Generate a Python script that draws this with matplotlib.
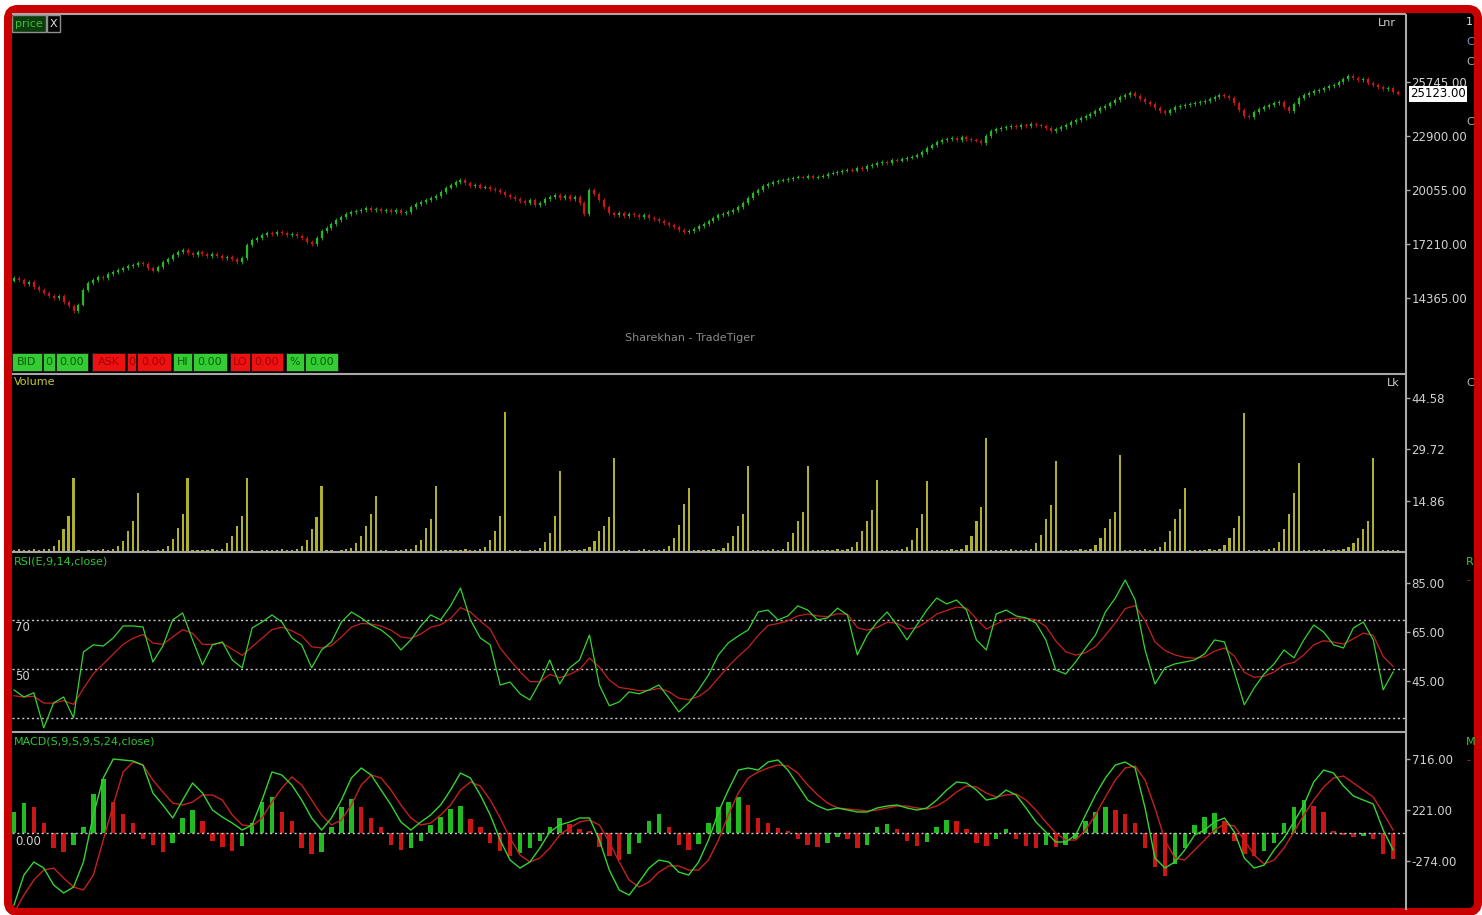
import matplotlib
matplotlib.use("Agg")
import matplotlib.pyplot as plt
import matplotlib.transforms as mtransforms
from matplotlib.patches import Rectangle, FancyBboxPatch
import numpy as np

plt.rcParams['font.family'] = ['DejaVu Sans']

# ---------------- data ----------------
first_open = 15300
closes = [
    15416, 15311, 15100, 15206, 14942, 14783, 14626, 14468, 14362, 14468,
    14151, 13940, 13676, 13995, 14783, 15153, 15311, 15469, 15416, 15627,
    15732, 15838, 15943, 16048, 16101, 16206, 16154, 15943, 15786, 15996,
    16259, 16417, 16628, 16786, 16892, 16733, 16628, 16786, 16681, 16575,
    16681, 16575, 16470, 16523, 16417, 16259, 16470, 17155, 17418, 17524,
    17682, 17787, 17735, 17840, 17787, 17682, 17735, 17629, 17524, 17313,
    17208, 17524, 17893, 18051, 18262, 18472, 18631, 18789, 18894, 18947,
    19000, 19105, 19000, 19052, 18947, 19000, 18894, 19000, 18842, 18894,
    19158, 19316, 19421, 19526, 19632, 19737, 19949, 20160, 20318, 20476,
    20581, 20423, 20265, 20318, 20160, 20213, 20107, 20054, 19949, 19790,
    19685, 19579, 19474, 19368, 19526, 19263, 19368, 19579, 19685, 19790,
    19632, 19737, 19579, 19685, 19368, 18789, 20054, 19842, 19526, 19158,
    18842, 18736, 18842, 18684, 18789, 18736, 18631, 18736, 18578, 18525,
    18420, 18314, 18209, 18104, 17946, 17840, 17893, 17998, 18156, 18262,
    18420, 18578, 18736, 18789, 18894, 19000, 19158, 19368, 19632, 19896,
    20054, 20265, 20370, 20476, 20529, 20581, 20634, 20687, 20740, 20687,
    20792, 20687, 20740, 20792, 20898, 20950, 21003, 21056, 21108, 21056,
    21214, 21161, 21319, 21372, 21477, 21530, 21477, 21635, 21583, 21688,
    21741, 21794, 21899, 22057, 22268, 22426, 22584, 22689, 22742, 22795,
    22689, 22847, 22742, 22689, 22637, 22531, 22900, 23163, 23268, 23321,
    23374, 23426, 23374, 23479, 23426, 23532, 23479, 23426, 23321, 23163,
    23268, 23374, 23479, 23637, 23742, 23848, 23953, 24058, 24216, 24375,
    24480, 24638, 24796, 24954, 25060, 25165, 25007, 24849, 24691, 24585,
    24375, 24216, 24111, 24269, 24427, 24480, 24533, 24585, 24638, 24691,
    24743, 24849, 24954, 25060, 25007, 24902, 24638, 24269, 23953, 23900,
    24164, 24322, 24427, 24533, 24638, 24691, 24427, 24216, 24585, 24902,
    25060, 25165, 25270, 25323, 25429, 25534, 25587, 25745, 25903, 26061,
    25956, 25850, 25903, 25692, 25587, 25481, 25376, 25429, 25218, 25123,
]
volume = [
    0.6, 0.8, 0.5, 0.7, 0.9, 0.6, 0.8, 1.0, 1.8, 3.5, 6.5, 10.5, 21.4, 0.5, 0.4, 0.6, 0.7, 0.5, 0.8, 0.6,
    0.9, 1.6, 3.2, 6.0, 9.0, 17.0, 0.5, 0.6, 0.4, 0.7, 0.9, 1.8, 3.8, 7.0, 11.0, 21.4, 0.6, 0.5, 0.7, 0.6,
    0.8, 0.5, 0.9, 2.5, 4.5, 7.5, 10.5, 21.4, 0.5, 0.4, 0.6, 0.5, 0.7, 0.6, 0.8, 0.5, 0.7, 1.0, 1.8, 3.5,
    6.5, 10.0, 19.0, 0.6, 0.5, 0.4, 0.6, 0.8, 1.2, 2.5, 4.5, 7.5, 11.0, 16.2, 0.5, 0.6, 0.4, 0.7, 0.6, 0.8,
    0.9, 2.0, 3.5, 7.0, 9.5, 19.0, 0.6, 0.5, 0.7, 0.6, 0.5, 0.8, 0.6, 0.7, 0.9, 1.5, 3.5, 6.0, 10.5, 40.4,
    0.7, 0.5, 0.6, 0.4, 0.7, 0.6, 1.2, 3.0, 5.5, 10.5, 23.4, 0.6, 0.5, 0.7, 0.6, 0.8, 1.5, 3.2, 6.0, 7.5,
    10.0, 27.1, 0.6, 0.5, 0.7, 0.4, 0.6, 0.8, 0.5, 0.7, 0.6, 0.9, 1.6, 4.0, 7.8, 14.0, 18.5, 0.5, 0.6, 0.7,
    0.5, 0.8, 0.6, 1.2, 2.5, 4.5, 7.5, 11.0, 24.8, 0.6, 0.5, 0.7, 0.6, 0.8, 0.5, 1.0, 2.8, 5.5, 9.0, 11.5,
    24.8, 0.6, 0.5, 0.7, 0.6, 0.5, 0.8, 0.6, 0.9, 1.5, 3.0, 6.0, 9.0, 12.0, 20.8, 0.5, 0.7, 0.6, 0.5, 0.8,
    1.4, 3.5, 7.0, 11.0, 20.5, 0.6, 0.5, 0.7, 0.6, 0.8, 0.5, 0.9, 2.0, 4.5, 9.0, 13.0, 32.9, 0.6, 0.5, 0.7,
    0.6, 0.8, 0.5, 0.7, 0.6, 0.9, 2.5, 5.0, 9.5, 13.5, 26.3, 0.6, 0.5, 0.7, 0.6, 0.8, 0.5, 1.0, 2.0, 4.0,
    7.0, 9.5, 11.5, 28.0, 0.6, 0.5, 0.7, 0.6, 0.8, 0.6, 0.9, 1.5, 3.0, 6.0, 9.5, 12.5, 18.5, 0.6, 0.5, 0.7,
    0.6, 0.8, 0.5, 0.9, 2.0, 4.0, 7.0, 10.5, 40.1, 0.6, 0.5, 0.7, 0.6, 0.8, 1.2, 3.0, 6.5, 11.0, 17.0, 25.7,
    0.6, 0.5, 0.7, 0.6, 0.8, 0.5, 0.7, 0.6, 0.9, 1.5, 2.5, 4.0, 6.5, 9.0, 27.1, 0.6, 0.5, 0.7, 0.6, 0.5,
]
rsi = [
    41.4, 38.5, 40.2, 25.9, 36.1, 38.5, 30.0, 56.9, 59.8, 59.3,
    62.6, 67.5, 67.5, 67.1, 52.8, 59.3, 70.0, 72.8, 61.8, 51.6,
    59.8, 61.0, 53.6, 50.4, 66.7, 69.1, 72.0, 69.1, 62.6, 59.8,
    50.4, 57.7, 61.0, 69.1, 73.2, 70.8, 67.9, 65.9, 62.6, 57.7,
    61.8, 67.5, 72.0, 70.0, 75.7, 83.0, 70.0, 62.6, 59.8, 43.4,
    44.6, 39.8, 37.3, 44.6, 53.6, 43.8, 50.4, 53.6, 63.8, 43.4,
    34.9, 36.5, 40.6, 39.8, 41.4, 43.4, 38.1, 32.4, 36.1, 41.4,
    47.5, 55.7, 60.6, 63.4, 65.9, 73.2, 74.0, 70.0, 71.6, 75.7,
    74.0, 70.0, 70.8, 74.8, 72.0, 55.7, 63.8, 69.1, 73.2, 67.9,
    61.8, 67.9, 74.0, 78.9, 76.5, 78.1, 74.0, 61.8, 57.7, 72.4,
    74.0, 71.6, 70.8, 68.7, 61.8, 49.5, 47.9, 52.8, 58.5, 63.8,
    73.2, 78.9, 86.3, 78.1, 57.7, 43.8, 50.4, 52.0, 52.8, 53.6,
    56.1, 61.8, 61.0, 48.7, 35.3, 42.2, 47.9, 52.0, 57.7, 54.5,
    61.8, 67.9, 65.0, 59.8, 58.5, 66.7, 69.1, 61.8, 41.4, 48.7,
]
rsi_signal = [
    39, 38.5, 38.8, 36, 36, 37, 35.5, 42, 48, 52,
    56, 60, 62.5, 64, 60.5, 60, 63, 66, 64.5, 60,
    60, 60.5, 58, 55.5, 59, 62.5, 66, 67, 65.5, 63.5,
    59, 58.5, 59.5, 63, 67, 68.5, 68.3, 67.5, 65.8, 63,
    62.5, 64.2, 67, 68, 70.5, 75, 73.2, 69.5, 66.2, 58.5,
    53.5, 48.8, 44.8, 44.7, 47.7, 46.4, 47.7, 49.7, 54.4, 50.7,
    45.4, 42.4, 41.8, 41.1, 41.2, 42, 40.7, 38, 37.4, 38.7,
    41.6, 46.3, 51, 55.1, 58.7, 63.6, 67.7, 68.5, 69.6, 71.6,
    72.4, 71.6, 71.3, 72.5, 72.3, 66.8, 65.8, 66.9, 69, 68.6,
    66.3, 66.8, 69.2, 72.4, 73.8, 75.2, 74.8, 70.4, 66.2, 68.3,
    70.2, 70.7, 70.7, 70, 67.3, 61.4, 57, 55.6, 56.6, 59,
    63.7, 68.8, 74.6, 75.8, 69.7, 61, 57.5, 55.7, 54.7, 54.3,
    54.9, 57.2, 58.5, 55.2, 48.6, 46.5, 47, 48.7, 51.7, 52.6,
    55.7, 59.8, 61.5, 60.9, 60.1, 62.3, 64.6, 63.7, 55, 51,
]
macd = [
    -699, -408, -281, -340, -505, -582, -524, -281, 175, 534,
    718, 709, 699, 660, 388, 272, 146, 320, 485, 388,
    223, 155, 97, 29, 78, 320, 592, 563, 466, 320,
    146, 29, 146, 320, 534, 631, 563, 417, 272, 107,
    29, 107, 175, 272, 417, 582, 534, 369, 175, -68,
    -262, -340, -281, -146, 10, 78, 107, 146, 146, -68,
    -359, -553, -602, -476, -340, -262, -281, -379, -408, -281,
    -68, 204, 417, 611, 631, 611, 689, 709, 611, 466,
    320, 262, 223, 243, 223, 204, 204, 243, 262, 272,
    243, 223, 243, 320, 417, 495, 485, 417, 320, 340,
    417, 369, 243, 107, 10, -87, -87, -19, 175, 369,
    534, 660, 689, 631, 243, -243, -340, -281, -165, -19,
    29, 107, 146, 10, -243, -340, -311, -165, -49, 107,
    272, 495, 611, 582, 456, 359, 320, 281, 29, -165,
]
macd_signal = [
    -776, -602, -456, -359, -340, -437, -524, -553, -408, -68,
    272, 592, 689, 660, 514, 398, 291, 272, 301, 369,
    369, 320, 175, 78, 68, 146, 301, 437, 544, 466,
    320, 175, 78, 126, 272, 466, 563, 534, 417, 272,
    146, 78, 97, 175, 272, 417, 495, 456, 320, 146,
    -49, -214, -281, -243, -146, -19, 49, 107, 126, 78,
    -87, -281, -456, -524, -476, -379, -320, -320, -359, -359,
    -262, -68, 175, 388, 534, 592, 631, 660, 650, 582,
    466, 369, 291, 243, 233, 223, 214, 223, 243, 262,
    262, 243, 233, 262, 320, 398, 456, 446, 388, 349,
    369, 379, 320, 223, 107, 0, -68, -68, 29, 175,
    349, 514, 631, 650, 514, 243, -68, -243, -262, -165,
    -68, 29, 87, 68, -68, -214, -301, -262, -146, 10,
    175, 320, 446, 534, 553, 485, 417, 349, 194, 29,
]
macd_hist = [
    200, 290, 250, 100, -150, -180, -120, 60, 380, 520,
    300, 180, 100, -60, -120, -180, -100, 150, 220, 120,
    -80, -140, -170, -130, 100, 300, 350, 200, 120, -150,
    -200, -180, 60, 250, 330, 250, 150, 60, -120, -160,
    -150, -80, 80, 160, 230, 260, 140, 60, -100, -170,
    -220, -190, -150, -80, 60, 150, 90, 40, 20, -140,
    -220, -260, -200, -100, 120, 180, 60, -120, -160, -110,
    100, 250, 300, 350, 270, 150, 100, 50, 20, -60,
    -120, -140, -100, -40, -60, -150, -120, 60, 90, 40,
    -80, -130, -90, 60, 130, 120, 40, -100, -130, -60,
    40, -60, -130, -150, -120, -140, -120, -60, 120, 200,
    250, 220, 180, 100, -150, -330, -420, -300, -150, 80,
    160, 190, 120, -80, -200, -220, -170, -100, 100, 250,
    320, 260, 200, 20, -20, -40, -30, -60, -200, -250,
]

price_ticks = [14365, 17210, 20055, 22900, 25745]
last_price = 25123.00
vol_ticks = [14.86, 29.72, 44.58]
rsi_ticks = [45, 65, 85]
rsi_levels = [30, 50, 70]
rsi_level_labels = ["70", "50"]
macd_ticks = [-274, 221, 716]
quote_labels = ["BID", "0", "0.00", "ASK", "0", "0.00", "HI", "0.00", "LO", "0.00", "%", "0.00"]

# ---------------- figure ----------------
W, H, DPI = 1482, 915, 100
fig = plt.figure(figsize=(W / DPI, H / DPI), dpi=DPI)
fig.patch.set_facecolor('white')


def px_axes(x0, y0, x1, y1, z=0):
    return fig.add_axes([x0 / W, 1 - y1 / H, (x1 - x0) / W, (y1 - y0) / H], zorder=z)


bg = px_axes(0, 0, W, H, z=-5)
bg.set_xlim(0, W); bg.set_ylim(H, 0); bg.axis('off')
bg.add_patch(FancyBboxPatch((8, 9), 1470, 903, boxstyle="round,pad=0,rounding_size=10",
                            facecolor='black', edgecolor='none'))

GREEN = '#22bb22'
RED = '#cc1515'
LGREEN = '#33d433'
LRED = '#c42020'
LBL = '#d0d0d0'
X0, X1 = 12, 1406
XLIM = (-0.4, 280.6)


def style(ax, ticks, ylim):
    ax.set_facecolor('none')
    for s in ax.spines.values():
        s.set_visible(False)
    ax.set_xlim(*XLIM)
    ax.set_ylim(*ylim)
    ax.set_xticks([])
    ax.yaxis.tick_right()
    ax.set_yticks(ticks)
    ax.set_yticklabels(["{:.2f}".format(t) for t in ticks])
    ax.tick_params(axis='y', colors='#a8a8a8', labelcolor=LBL, length=3, width=1,
                   pad=1, labelsize=8.5, direction='out')


# price panel
ax_p = px_axes(X0, 15, X1, 374, z=1)
style(ax_p, price_ticks, (10357, 29276))
days = np.arange(len(closes))
c = np.array(closes, dtype=float)
o = np.array([first_open] + closes[:-1], dtype=float)
cols = np.where(c >= o, GREEN, RED)
lo = np.minimum(o, c)
hi = np.maximum(o, c)
ax_p.vlines(days, lo - 80, hi + 80, colors=cols, lw=0.6)
ax_p.vlines(days, lo - 20, hi + 20, colors=cols, lw=1.6)
ax_p.annotate("{:.2f}".format(last_price), xy=(1, last_price),
              xycoords=('axes fraction', 'data'), xytext=(3, 0), textcoords='offset points',
              ha='left', va='center', fontsize=8.5, color='black',
              bbox=dict(boxstyle='square,pad=0.12', facecolor='white', edgecolor='none'))

# volume panel
ax_v = px_axes(X0, 375, X1, 552, z=1)
style(ax_v, vol_ticks, (0, 51.1))
ax_v.bar(days, volume, width=0.45, color='#b0b02a')

# RSI panel
ax_r = px_axes(X0, 553, X1, 732, z=1)
style(ax_r, rsi_ticks, (24.2, 97.3))
ind_x = np.arange(len(rsi)) * 2
for lv in rsi_levels:
    ax_r.axhline(lv, color='#c8c8c8', lw=1.0, ls=(0, (1.5, 2.0)))
ax_r.plot(ind_x, rsi_signal, color=LRED, lw=0.9)
ax_r.plot(ind_x, rsi, color=LGREEN, lw=0.9)
tr_r = mtransforms.blended_transform_factory(ax_r.transAxes, ax_r.transData)
for lab, lv in zip(rsi_level_labels, [70, 50]):
    ax_r.text(0.002, lv - 0.5, lab, transform=tr_r, ha='left', va='top', fontsize=8.5, color=LBL)

# MACD panel
ax_m = px_axes(X0, 733, X1, 910, z=1)
style(ax_m, macd_ticks, (-747, 970.6))
h = np.array(macd_hist, dtype=float)
hcols = [GREEN if (i == 0 or h[i] >= h[i - 1]) else RED for i in range(len(h))]
ax_m.bar(ind_x, h, width=0.9, color=hcols, zorder=1)
ax_m.axhline(0, color='#c8c8c8', lw=1.0, ls=(0, (1.5, 2.0)), zorder=2)
ax_m.plot(ind_x, macd_signal, color=LRED, lw=1.0, zorder=3)
ax_m.plot(ind_x, macd, color=LGREEN, lw=1.0, zorder=4)
tr_m = mtransforms.blended_transform_factory(ax_m.transAxes, ax_m.transData)
ax_m.text(0.002, -20, "0.00", transform=tr_m, ha='left', va='top', fontsize=8.5, color=LBL)

# overlay: separators, labels, boxes, frame
ov = px_axes(0, 0, W, H, z=10)
ov.set_xlim(0, W); ov.set_ylim(H, 0); ov.axis('off')
SEP = '#a8a8a8'
for y in (14, 374, 552, 732):
    ov.plot([X0, X1], [y, y], color=SEP, lw=1.5, solid_capstyle='butt')
ov.plot([X1, X1], [14, 910], color=SEP, lw=1.5, solid_capstyle='butt')

# price tag
ov.add_patch(Rectangle((12, 15), 34, 17, facecolor='#0c3c0c', edgecolor='#909090', lw=1))
ov.text(29, 24, "price", color='#3cc03c', fontsize=8, ha='center', va='center')
ov.add_patch(Rectangle((47, 15), 13, 17, facecolor='black', edgecolor='#909090', lw=1))
ov.text(53.5, 24, "X", color='#e0e0e0', fontsize=8, ha='center', va='center')

# quote boxes
box_x = [(12, 42), (43, 55), (56, 88), (92, 125), (127, 136), (137, 171),
         (173, 192), (193, 227), (230, 250), (251, 283), (286, 304), (305, 338)]
box_kind = ['g', 'g', 'g', 'r', 'r', 'r', 'g', 'g', 'r', 'r', 'g', 'g']
for (bx0, bx1), kind, lab in zip(box_x, box_kind, quote_labels):
    fc = '#33cc33' if kind == 'g' else '#ee1111'
    tc = '#0d5a0d' if kind == 'g' else '#a00000'
    ov.add_patch(Rectangle((bx0, 353), bx1 - bx0, 18, facecolor=fc, edgecolor='#1a1a1a', lw=0.6))
    ov.text((bx0 + bx1) / 2, 362, lab, color=tc, fontsize=8, ha='center', va='center')

ov.text(690, 338, "Sharekhan - TradeTiger", color='#8a8a8a', fontsize=8, ha='center', va='center')
ov.text(14, 382, "Volume", color='#c8c832', fontsize=8, ha='left', va='center')
ov.text(14, 562, "RSI(E,9,14,close)", color='#2ec82e', fontsize=8, ha='left', va='center')
ov.text(14, 742, "MACD(S,9,S,9,S,24,close)", color='#2ec82e', fontsize=8, ha='left', va='center')
ov.text(1378, 23, "Lnr", color=LBL, fontsize=8, ha='left', va='center')
ov.text(1387, 383, "Lk", color=LBL, fontsize=8, ha='left', va='center')

# partially hidden legend glyphs at the right edge
for y, t, col in [(22, "1", '#e0e0e0'), (42, "C", '#8090c0'), (62, "C", '#b0b0b0'),
                  (122, "C", '#b0b0b0'), (383, "C", '#b0b0b0'), (562, "R", '#2ec82e'),
                  (580, "-", '#c81e1e'), (742, "M", '#2ec82e'), (760, "-", '#c81e1e')]:
    ov.text(1466, y, t, color=col, fontsize=8, ha='left', va='center')

# red frame
ov.add_patch(FancyBboxPatch((8, 9), 1470, 903, boxstyle="round,pad=0,rounding_size=10",
                            fill=False, edgecolor='#c80000', lw=5.8))

fig.savefig("out.png", dpi=DPI, facecolor=fig.get_facecolor())
